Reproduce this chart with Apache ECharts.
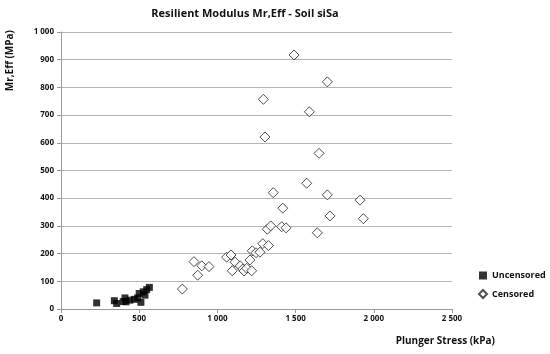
<!DOCTYPE html>
<html><head><meta charset="utf-8">
<script src="https://cdn.jsdelivr.net/npm/echarts@6/dist/echarts.min.js"></script>
<style>html,body{margin:0;padding:0;background:#fff}#c{width:550px;height:354px}</style>
</head><body><div id="c"></div>
<script>
const titleText = "Resilient Modulus Mr,Eff - Soil siSa";
const xName = "Plunger Stress (kPa)";
const yName = "Mr,Eff (MPa)";
const seriesNames = ["Uncensored", "Censored"];
const uncensored = [[228,22],[341,30],[356,20],[398,27],[409,40],[416,26],[441,32],[470,35],[490,40],[500,56],[511,24],[526,62],[537,50],[548,70],[565,78]];
const censored = [[776,72],[850,171],[874,122],[900,156],[946,153],[1059,187],[1087,195],[1095,138],[1113,169],[1145,156],[1162,144],[1170,137],[1187,147],[1208,177],[1219,138],[1223,210],[1247,203],[1272,205],[1290,236],[1326,229],[1319,288],[1341,300],[1411,297],[1439,293],[1418,364],[1357,420],[1571,454],[1650,562],[1703,412],[1912,393],[1720,336],[1933,326],[1639,275],[1304,621],[1294,757],[1490,917],[1703,820],[1588,712]];

function fmt(v){ return String(v).replace(/\B(?=(\d{3})+(?!\d))/g, ' '); }
const font = '"Open Sans", "DejaVu Sans", sans-serif';
const chart = echarts.init(document.getElementById('c'), null, {renderer:'canvas'});
chart.setOption({
  animation:false,
  backgroundColor:'#fff',
  title:{text:titleText,left:240,textAlign:'center',top:3,textStyle:{fontFamily:font,fontSize:11,fontWeight:'bold',color:'#111'}},
  grid:{left:61,right:98,top:32,bottom:45,containLabel:false},
  xAxis:{type:'value',min:0,max:2500,interval:500,
    axisLine:{show:true,onZero:false,lineStyle:{color:'#999'}},
    axisTick:{show:true,length:4,lineStyle:{color:'#999'}},
    splitLine:{show:false},
    axisLabel:{formatter:fmt,fontFamily:font,fontSize:8,fontWeight:'bold',color:'#111',margin:6}},
  yAxis:{type:'value',min:0,max:1000,interval:100,
    axisLine:{show:true,lineStyle:{color:'#999'}},
    axisTick:{show:true,length:4,lineStyle:{color:'#999'}},
    splitLine:{show:true,lineStyle:{color:'#b5b5b5',width:1}},
    axisLabel:{formatter:fmt,fontFamily:font,fontSize:8,fontWeight:'bold',color:'#111',margin:7}},
  legend:{orient:'vertical',left:473,top:266,itemWidth:8,itemHeight:8,itemGap:9,
    textStyle:{fontFamily:font,fontSize:9,fontWeight:'bold',color:'#111'},
    data:[{name:seriesNames[0],icon:'rect'},{name:seriesNames[1],icon:'diamond'}]},
  graphic:[
    {type:'text',left:5,top:30,rotation:Math.PI/2,style:{text:yName,font:'bold 10px '+font,fill:'#111'}},
    {type:'text',right:55,top:336,style:{text:xName,font:'bold 10px '+font,fill:'#111'}}
  ],
  series:[
    {name:seriesNames[0],type:'scatter',symbol:'rect',symbolSize:7,data:uncensored,
      itemStyle:{color:'#000'}},
    {name:seriesNames[1],type:'scatter',symbol:'diamond',symbolSize:[10,10],data:censored,
      itemStyle:{color:'#fff',borderColor:'#222',borderWidth:1}}
  ]
});
</script></body></html>
